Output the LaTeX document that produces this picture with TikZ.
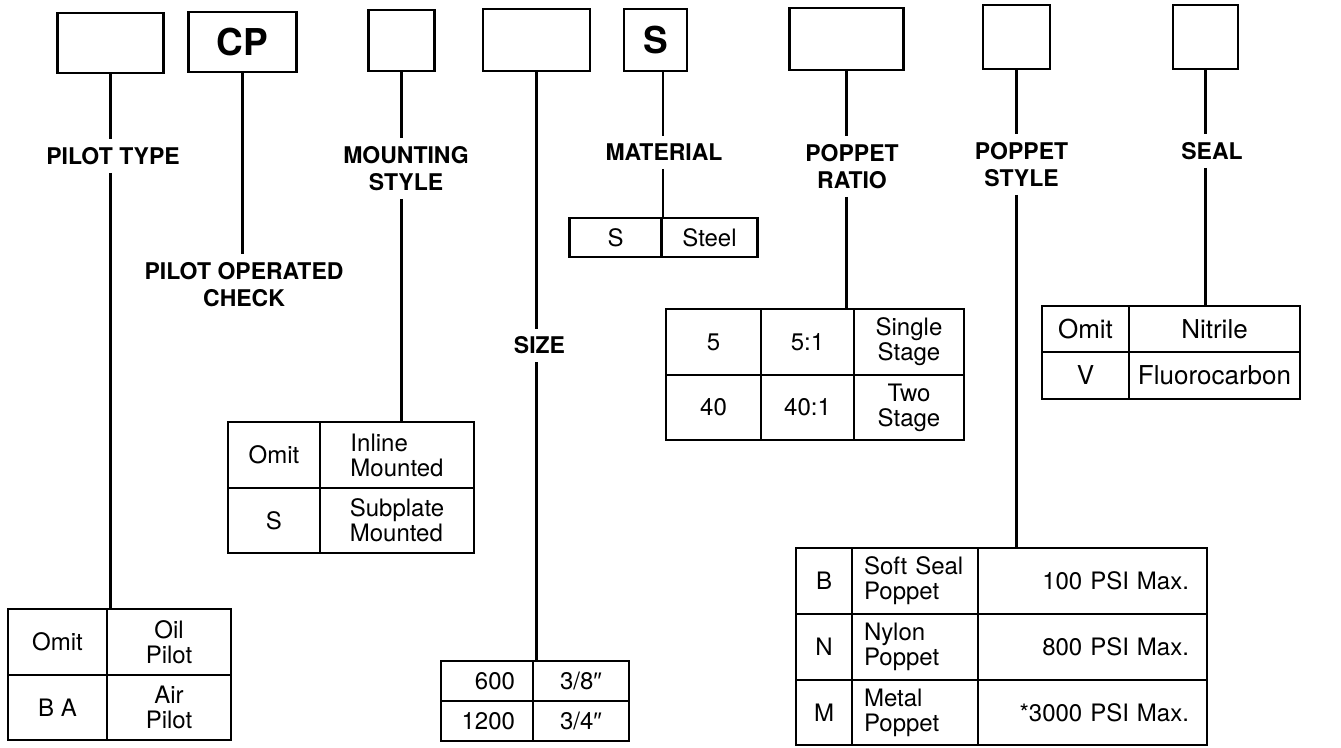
\documentclass[tikz,border=0pt]{standalone}
\usepackage{fontspec}
\setmainfont{TeX Gyre Heros}
\newfontfamily\primefont{Liberation Sans}
\usepackage{tikz}

\begin{document}
\begin{tikzpicture}[x=1pt,y=-1pt,line width=2.2pt,
    codebox/.style={draw,inner sep=0pt,font=\bfseries\fontsize{37}{40}\selectfont},
    heading/.style={font=\bfseries\fontsize{23}{27}\selectfont,align=center,inner xsep=2pt,inner ysep=7pt},
    cell/.style={draw,inner sep=3pt,align=center,font=\fontsize{24}{25}\selectfont},
    bigcell/.style={cell,font=\fontsize{26}{28}\selectfont}]
  \useasboundingbox (0,0) rectangle (1341,747);
  % code boxes
  \node[codebox,minimum width=106pt,minimum height=60pt] (bpilot) at (110.5,43) {};
  \node[codebox,minimum width=108pt,minimum height=60pt] (bcheck) at (242.5,42) {CP};
  \node[codebox,minimum width=66pt,minimum height=61pt] (bmount) at (401.5,40.5) {};
  \node[codebox,minimum width=107pt,minimum height=62pt] (bsize) at (536.5,40) {};
  \node[codebox,minimum width=63pt,minimum height=62pt] (bmat) at (655.5,40) {S};
  \node[codebox,minimum width=114pt,minimum height=62pt] (bratio) at (846.5,39) {};
  \node[codebox,minimum width=67pt,minimum height=64pt] (bstyle) at (1016.5,37) {};
  \node[codebox,minimum width=65pt,minimum height=64pt] (bseal) at (1205.5,37) {};
  % headings
  \node[heading] (lpilot) at (113,156) {PILOT TYPE};
  \node[heading] (lcheck) at (244,284.5) {PILOT OPERATED\\CHECK};
  \node[heading] (lmount) at (406,168.5) {MOUNTING\\STYLE};
  \node[heading] (lsize) at (539.5,345.5) {SIZE};
  \node[heading] (lmat) at (664,152.5) {MATERIAL};
  \node[heading] (lratio) at (852,166.5) {POPPET\\RATIO};
  \node[heading] (lstyle) at (1021.5,164.5) {POPPET\\STYLE};
  \node[heading] (lseal) at (1212,151) {SEAL};
  % pilot type
  \node[cell,minimum width=99pt,minimum height=66pt] (pt11) at (57.5,642) {Omit};
  \node[cell,minimum width=124pt,minimum height=66pt] (pt12) at (169,642) {Oil\\Pilot};
  \node[cell,minimum width=99pt,minimum height=65pt] (pt21) at (57.5,707.5) {B A};
  \node[cell,minimum width=124pt,minimum height=65pt] (pt22) at (169,707.5) {Air\\Pilot};
  % mounting style
  \node[cell,minimum width=92pt,minimum height=66pt] (ms11) at (274,455) {Omit};
  \node[cell,minimum width=154pt,minimum height=66pt,align=left] (ms12) at (397,455) {Inline\\Mounted};
  \node[cell,minimum width=92pt,minimum height=65pt] (ms21) at (274,520.5) {S};
  \node[cell,minimum width=154pt,minimum height=65pt,align=left] (ms22) at (397,520.5) {Subplate\\Mounted};
  % size
  \node[cell,minimum width=92pt,minimum height=40pt,text width=56pt,inner xsep=18pt,align=right] (sz11) at (487,681) {600};
  \node[cell,minimum width=96pt,minimum height=40pt] (sz12) at (581,681) {3/8{\primefont ″}};
  \node[cell,minimum width=92pt,minimum height=40pt,text width=56pt,inner xsep=18pt,align=right] (sz21) at (487,721) {1200};
  \node[cell,minimum width=96pt,minimum height=40pt] (sz22) at (581,721) {3/4{\primefont ″}};
  % material
  \node[cell,minimum width=92pt,minimum height=39pt] (mt11) at (615.5,237.5) {S};
  \node[cell,minimum width=96pt,minimum height=39pt] (mt12) at (709.5,237.5) {Steel};
  % poppet ratio
  \node[cell,minimum width=95pt,minimum height=66pt] (rt11) at (713.5,342) {5};
  \node[cell,minimum width=93pt,minimum height=66pt] (rt12) at (807.5,342) {5:1};
  \node[cell,minimum width=110pt,minimum height=66pt] (rt13) at (909,342) {Single\\Stage};
  \node[cell,minimum width=95pt,minimum height=65pt] (rt21) at (713.5,407.5) {40};
  \node[cell,minimum width=93pt,minimum height=65pt] (rt22) at (807.5,407.5) {40:1};
  \node[cell,minimum width=110pt,minimum height=65pt] (rt23) at (909,407.5) {Two\\Stage};
  % poppet style
  \node[cell,minimum width=56pt,minimum height=66pt] (ps11) at (824,581) {B};
  \node[cell,minimum height=66pt,text width=102pt,inner xsep=12pt,align=left] (ps12) at (915,581) {Soft Seal\\Poppet};
  \node[cell,minimum height=66pt,text width=193pt,inner xsep=18pt,align=right] (ps13) at (1092.5,581) {100 PSI Max.};
  \node[cell,minimum width=56pt,minimum height=66pt] (ps21) at (824,647) {N};
  \node[cell,minimum height=66pt,text width=102pt,inner xsep=12pt,align=left] (ps22) at (915,647) {Nylon\\Poppet};
  \node[cell,minimum height=66pt,text width=193pt,inner xsep=18pt,align=right] (ps23) at (1092.5,647) {800 PSI Max.};
  \node[cell,minimum width=56pt,minimum height=65pt] (ps31) at (824,712.5) {M};
  \node[cell,minimum height=65pt,text width=102pt,inner xsep=12pt,align=left] (ps32) at (915,712.5) {Metal\\Poppet};
  \node[cell,minimum height=65pt,text width=193pt,inner xsep=18pt,align=right] (ps33) at (1092.5,712.5) {*3000 PSI Max.};
  % seal
  \node[bigcell,minimum width=87pt,minimum height=46pt] (sl11) at (1085.5,329) {Omit};
  \node[bigcell,minimum width=171pt,minimum height=46pt] (sl12) at (1214.5,329) {Nitrile};
  \node[bigcell,minimum width=87pt,minimum height=47pt] (sl21) at (1085.5,375.5) {V};
  \node[bigcell,minimum width=171pt,minimum height=47pt] (sl22) at (1214.5,375.5) {Fluorocarbon};
  % leader lines
  \foreach \n/\t in {pilot/pt12,mount/ms12,size/sz12,ratio/rt12,style/ps13,seal/sl12} {
    \draw (b\n.south) -- (b\n.south |- l\n.north);
    \draw (b\n.south |- l\n.south) -- (b\n.south |- \t.north);
  }
  \draw (bcheck.south) -- (bcheck.south |- lcheck.north);
  \draw (bmat.south -| mt11.east) -- (lmat.north -| mt11.east);
  \draw (lmat.south -| mt11.east) -- (mt11.north east);
\end{tikzpicture}
\end{document}
